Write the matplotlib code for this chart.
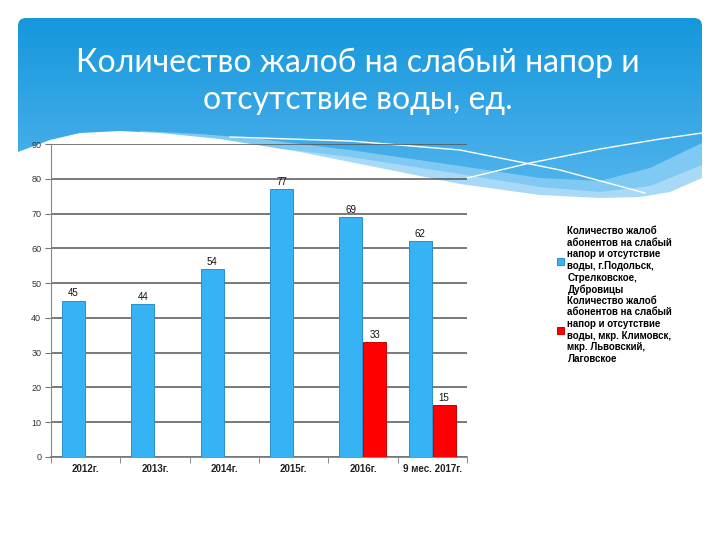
import matplotlib
matplotlib.use('Agg')
import matplotlib.pyplot as plt
import numpy as np
from matplotlib.patches import FancyBboxPatch, Polygon
from matplotlib.lines import Line2D

# данные
years = ['2012г.', '2013г.', '2014г.', '2015г.', '2016г.', '9 мес. 2017г.']
podolsk = [45, 44, 54, 77, 69, 62]
klimovsk = [np.nan, np.nan, np.nan, np.nan, 33, 15]
labels = ['Количество жалоб\nабонентов на слабый\nнапор и отсутствие\nводы, г.Подольск,\nСтрелковское,\nДубровицы',
          'Количество жалоб\nабонентов на слабый\nнапор и отсутствие\nводы, мкр. Климовск,\nмкр. Львовский,\nЛаговское']
yticks = [0, 10, 20, 30, 40, 50, 60, 70, 80, 90]
title = 'Количество жалоб на слабый напор и\nотсутствие воды, ед.'

fig = plt.figure(figsize=(7.2, 5.4), dpi=100)

# фон слайда: синяя шапка с волной
bg = fig.add_axes([0, 0, 1, 1])
bg.set_xlim(0, 720)
bg.set_ylim(540, 0)
bg.axis('off')
grad = np.linspace(0, 1, 200).reshape(-1, 1)
im = bg.imshow(grad, extent=[18, 702, 205, 18], aspect='auto',
               cmap=matplotlib.colors.LinearSegmentedColormap.from_list('h', ['#1597dc', '#56b6ee']))
clip = FancyBboxPatch((18, 18), 684, 187, boxstyle='round,pad=0,rounding_size=8',
                      transform=bg.transData, facecolor='none', edgecolor='none')
bg.add_patch(clip)
im.set_clip_path(clip)

# светлая полоса
xs = [140, 200, 260, 350, 460, 540, 600, 650, 702, 702, 140]
ys = [131, 134, 139, 150, 166, 178, 181, 168, 143, 540, 540]
bg.add_patch(Polygon(list(zip(xs, ys)), closed=True, facecolor='#7fc9f3', edgecolor='none'))
xs = [250, 350, 460, 540, 600, 650, 702, 702, 250]
ys = [145, 157, 174, 187, 192, 186, 165, 540, 540]
bg.add_patch(Polygon(list(zip(xs, ys)), closed=True, facecolor='#a8daf8', edgecolor='none'))
# белая волна
xs = [18, 50, 80, 120, 160, 220, 300, 380, 460, 540, 600, 640, 670, 702, 703, 703, 18]
ys = [152, 140, 133, 131, 133, 139, 152, 168, 184, 195, 198, 197, 192, 178, 178, 540, 540]
bg.add_patch(Polygon(list(zip(xs, ys)), closed=True, facecolor='white', edgecolor='none'))
bg.add_line(Line2D([230, 350, 460, 560, 645], [137, 141, 150, 170, 193], color='white', lw=1))
bg.add_line(Line2D([467, 530, 600, 660, 702], [178, 163, 149, 139, 133], color='white', lw=1))
bg.text(358, 81, title, color='white', fontsize=23, family='Lato',
        ha='center', va='center', linespacing=1.3)

# диаграмма
ax = fig.add_axes([51 / 720, 1 - 457 / 540, 416 / 720, 313 / 540])
ax.patch.set_alpha(0)
x = np.arange(len(years))
w = 0.33
b1 = ax.bar(x - 0.175, podolsk, w, color='#35b3f5', edgecolor='#2b8fca', lw=0.7, label=labels[0], zorder=3)
b2 = ax.bar(x + 0.17, klimovsk, w, color='#ff0000', edgecolor='#c80000', lw=0.7, label=labels[1], zorder=3)
for bars, vals in [(b1, podolsk), (b2, klimovsk)]:
    for r, v in zip(bars, vals):
        if not np.isnan(v):
            ax.text(r.get_x() + r.get_width() / 2, v + 0.6, str(int(v)), ha='center', va='bottom',
                    fontsize=7, family='Liberation Sans', color='#111111')

ax.set_xlim(-0.5, len(years) - 0.5)
ax.set_ylim(0, 90)
ax.set_yticks(yticks)
ax.set_yticklabels([str(t) for t in yticks], fontsize=6.5, family='Liberation Sans', color='#333333')
ax.yaxis.grid(True, color='#555555', lw=1.1, zorder=0)
ax.set_xticks(x)
ax.set_xticklabels(years, fontsize=7, family='Liberation Sans', fontweight='bold', color='#222222')
ax.set_xticks(np.arange(-0.5, len(years)), minor=True)
ax.tick_params(axis='x', which='major', length=0, pad=5)
ax.tick_params(axis='x', which='minor', length=4, color='#777777')
ax.tick_params(axis='y', length=4, color='#777777', pad=3)
for s in ['top', 'right']:
    ax.spines[s].set_visible(False)
ax.spines['left'].set_color('#888888')
ax.spines['bottom'].set_color('#777777')
ax.spines['bottom'].set_linewidth(1.2)

fig.legend(handles=[b1, b2], loc='center left', bbox_to_anchor=(548 / 720, 1 - 295 / 540),
           frameon=False, handlelength=0.7, handleheight=0.7, handletextpad=0.4, labelspacing=0.1,
           prop={'family': 'Liberation Sans', 'size': 7, 'weight': 'bold'})

fig.savefig('out.png', dpi=100)
